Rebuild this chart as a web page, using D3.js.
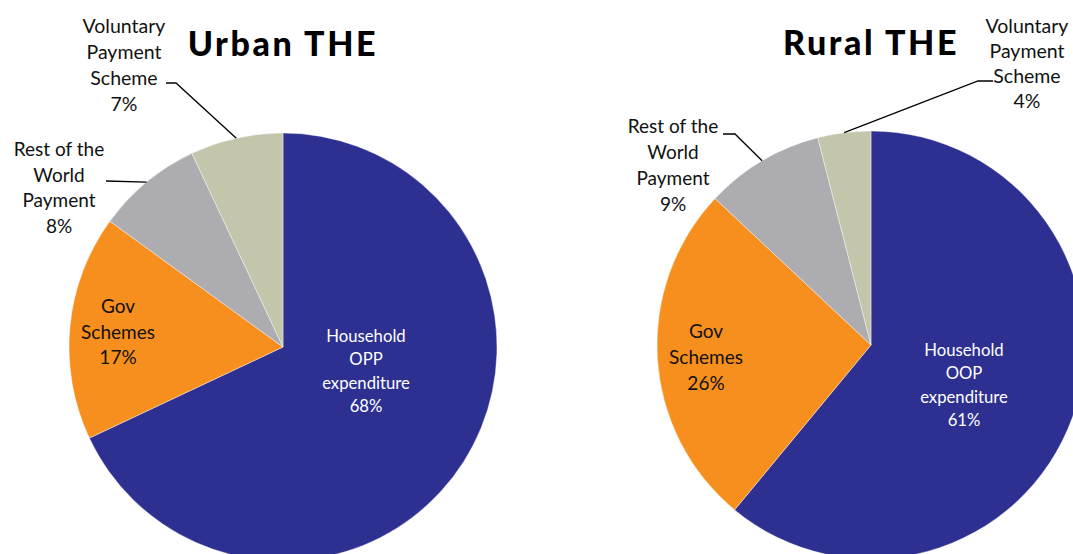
<!DOCTYPE html>
<html>
<head>
<meta charset="utf-8">
<script src="https://cdn.jsdelivr.net/npm/d3@7"></script>
<style>
  html, body { margin: 0; padding: 0; background: #fff; overflow: hidden; }
  svg { display: block; }
  text { font-family: Lato, "Open Sans", sans-serif; }
</style>
</head>
<body>
<svg id="chart" width="1073" height="554"></svg>
<script>
// Share of total health expenditure (THE) by financing scheme, %
const categories = ["Household", "Gov Schemes", "Rest of the World Payment", "Voluntary Payment Scheme"];
const urbanValues = [68, 17, 8, 7];
const ruralValues = [61, 26, 9, 4];
const urbanLabels = [["Household", "OPP", "expenditure"], ["Gov", "Schemes"], ["Rest of the", "World", "Payment"], ["Voluntary", "Payment", "Scheme"]];
const ruralLabels = [["Household", "OOP", "expenditure"], ["Gov", "Schemes"], ["Rest of the", "World", "Payment"], ["Voluntary", "Payment", "Scheme"]];
const titles = ["Urban THE", "Rural THE"];

const colors = ["#2d3091", "#f78f1f", "#adadb1", "#c3c6ab"];
const textColors = ["#ffffff", "#111111", "#111111", "#111111"];

// layout of each pie and its label blocks (x = centre of text block, y = first baseline)
const layouts = [
  {
    cx: 283, cy: 347, r: 214, titleY: 56,
    labels: [
      { x: 366, y: 342, lh: 23.3, size: 16.7 },
      { x: 118, y: 313, lh: 25.5, size: 19 },
      { x: 59,  y: 156, lh: 25.7, size: 19 },
      { x: 124, y: 33,  lh: 26,   size: 19.5 }
    ]
  },
  {
    cx: 871, cy: 345, r: 214, titleY: 55,
    labels: [
      { x: 964, y: 356, lh: 23.3, size: 16.7 },
      { x: 706, y: 338, lh: 26,   size: 19 },
      { x: 673, y: 133, lh: 26,   size: 19 },
      { x: 1027, y: 33, lh: 25,   size: 19.5 }
    ]
  }
];

// leader line waypoints, from the label side back to the slice edge
const leaders = [
  [null, null, [[106, 181]], [[176, 83], [166, 83]]],
  [null, null, [[735, 134], [723, 134]], [[978, 81], [993, 81]]]
];

const svg = d3.select("#chart");
const pie = d3.pie().sort(null).value(d => d);

function drawPie(values, labelLines, title, lay, leaderPts) {
  const g = svg.append("g");
  const arc = d3.arc().innerRadius(0).outerRadius(lay.r);
  const arcs = pie(values);

  g.append("g")
    .attr("transform", `translate(${lay.cx},${lay.cy})`)
    .selectAll("path")
    .data(arcs)
    .join("path")
    .attr("d", arc)
    .attr("fill", (d, i) => colors[i])
    .attr("stroke", "#ffffff")
    .attr("stroke-width", 0.4);

  // leader lines: from the slice's outer mid-angle to the label
  arcs.forEach((a, i) => {
    const pts = leaderPts[i];
    if (!pts) return;
    const mid = (a.startAngle + a.endAngle) / 2;
    const p0 = [lay.cx + lay.r * Math.sin(mid), lay.cy - lay.r * Math.cos(mid)];
    g.append("path")
      .attr("d", d3.line()([p0, ...pts]))
      .attr("fill", "none")
      .attr("stroke", "#000")
      .attr("stroke-width", 1.3);
  });

  // labels
  arcs.forEach((a, i) => {
    const L = lay.labels[i];
    const lines = [...labelLines[i], `${values[i]}%`];
    const t = g.append("text")
      .attr("text-anchor", "middle")
      .attr("font-size", L.size)
      .attr("fill", textColors[i]);
    lines.forEach((s, k) => {
      t.append("tspan")
        .attr("x", L.x)
        .attr("y", L.y + k * L.lh)
        .text(s);
    });
  });

  g.append("text")
    .attr("x", lay.cx)
    .attr("y", lay.titleY)
    .attr("text-anchor", "middle")
    .attr("font-size", 34)
    .attr("font-weight", 900)
    .attr("letter-spacing", 2.6)
    .attr("fill", "#000")
    .text(title);
}

drawPie(urbanValues, urbanLabels, titles[0], layouts[0], leaders[0]);
drawPie(ruralValues, ruralLabels, titles[1], layouts[1], leaders[1]);
</script>
</body>
</html>
